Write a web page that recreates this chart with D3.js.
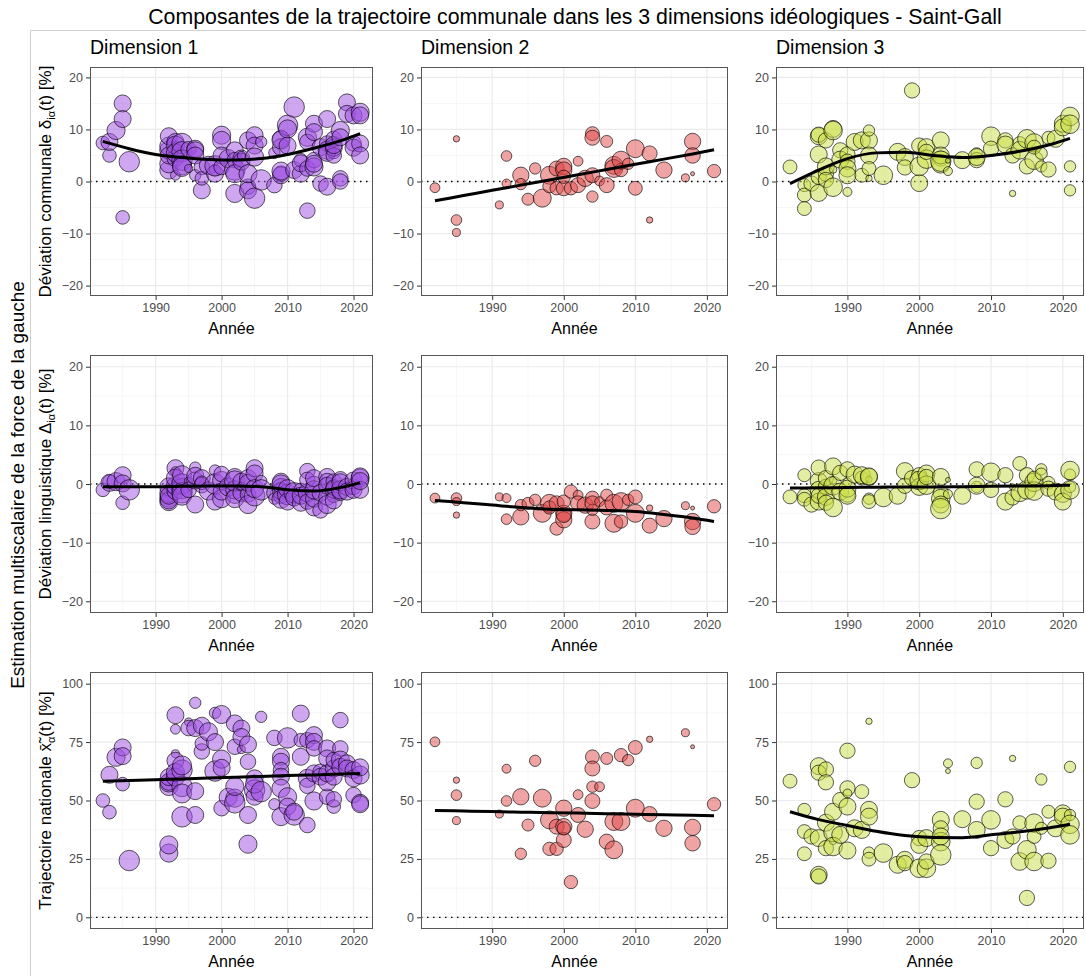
<!DOCTYPE html>
<html>
<head>
<meta charset="utf-8">
<script src="https://cdn.jsdelivr.net/npm/d3@7"></script>
<style>
  body { margin: 0; background: #fff; }
  text { font-family: "Liberation Sans", Arial, sans-serif; }
</style>
</head>
<body>
<svg id="chart" width="1086" height="976"></svg>
<script>
// SVG Size
var width = 1086,
    height = 976;

var dimensions = ["Dimension 1", "Dimension 2", "Dimension 3"];
var fills = ["#9d50e2", "#e04848", "#cadd48"];
var yearTicks = [1990, 2000, 2010, 2020];
var yearMinor = [1985, 1995, 2005, 2015];
var devTicks = [-20, -10, 0, 10, 20];
var devMinor = [-15, -5, 5, 15];
var natTicks = [0, 25, 50, 75, 100];
var natMinor = [12.5, 37.5, 62.5, 87.5];

// Dimension 1 : one entry per vote (year, weight, communal dev., linguistic dev., national)
var years1 = [1982, 1983, 1983, 1984, 1985, 1985, 1985, 1986,
  1992, 1992, 1992, 1992, 1992, 1992, 1993, 1993, 1993, 1993, 1993, 1993,
  1994, 1994, 1994, 1994, 1994, 1995, 1995, 1996, 1996, 1996, 1996,
  1997, 1997, 1997, 1998, 1999, 1999, 1999, 2000, 2000, 2000, 2000, 2001,
  2002, 2002, 2002, 2002, 2002, 2003, 2003, 2003, 2004, 2004, 2004, 2004,
  2005, 2005, 2005, 2005, 2006, 2006, 2008, 2008,
  2009, 2009, 2009, 2009, 2009, 2009, 2010, 2010, 2010, 2011, 2011,
  2012, 2012, 2012, 2013, 2013, 2013, 2013, 2014, 2014, 2014, 2014, 2014,
  2015, 2015, 2016, 2016, 2016, 2016, 2016, 2017, 2017, 2017, 2017, 2017,
  2018, 2018, 2018, 2018, 2019, 2019, 2020, 2020, 2020, 2021, 2021, 2021, 2021];
var weights1 = [23, 23, 36, 41, 36, 36, 23, 52,
  41, 41, 41, 41, 36, 36, 36, 12, 8, 36, 41, 41,
  52, 52, 52, 45, 45, 8, 30, 16, 36, 36, 36,
  36, 30, 23, 41, 16, 36, 52, 41, 41, 36, 30, 41,
  36, 30, 41, 52, 41, 36, 36, 8, 36, 30, 36, 41,
  36, 52, 36, 41, 16, 52, 30, 16,
  36, 36, 30, 36, 41, 41, 52, 41, 36, 52, 36,
  36, 23, 36, 30, 41, 30, 30, 36, 36, 30, 41, 36,
  30, 36, 36, 36, 30, 41, 36, 23, 30, 36, 30, 36,
  30, 30, 41, 36, 36, 36, 30, 36, 36, 41, 36, 36, 36];
var devCom1 = [7.4, 5.0, 7.6, 9.8, 15.0, 12.0, -6.9, 3.8,
  2.2, 3.4, 6.0, 6.8, 8.7, 5.0, 7.6, 1.2, 6.9, 4.5, 7.0, 5.5,
  7.3, 5.7, 4.1, 3.1, 2.8, 2.5, 6.2, 1.2, 6.3, 6.0, 5.0,
  -1.7, 2.8, 0.6, 3.1, 2.2, 1.5, 3.0, 8.9, 7.9, 5.0, 2.8, 4.4,
  6.0, 4.1, -2.3, 2.2, 1.5, 4.4, 3.8, 5.0, 7.9, -1.0, -1.7, 1.5,
  8.9, -3.2, 6.9, 4.7, 7.6, 0.3, -0.7, 5.5,
  8.2, 6.6, 1.5, 1.2, 8.0, 2.0, 10.8, 10.1, 6.9, 14.3, 2.2,
  1.5, 4.1, 3.5, -5.6, 8.5, 7.6, 2.5, 11.1, 9.5, 4.1, 2.8, 3.4,
  -0.4, 6.6, 12.0, -1.0, 7.3, 6.0, 5.5, 5.7, 8.2, 6.5, 5.0, 7.0,
  0.6, 0.0, 9.8, 8.5, 15.2, 13.0, 7.3, 12.7, 6.5, 13.3, 12.7, 7.3, 5.0];
var devLing1 = [-1.0, 0.4, 0.2, 0.4, 1.5, 0.1, -3.2, -1.0,
  -2.4, -3.0, -1.6, -0.5, -2.8, -2.0, 2.7, 2.1, 0.3, -1.2, -0.3, 1.0,
  -0.8, 0.0, -1.5, 1.5, -2.0, 0.5, -1.0, 2.8, -3.5, 0.6, 1.4,
  1.0, -0.2, 0.2, -1.2, 2.3, -3.0, 0.0, -2.5, 0.6, -1.3, 1.7, -0.5,
  1.2, -2.0, -1.0, 0.5, -2.5, -1.5, 0.4, -0.4, 1.0, -1.8, 0.2, -3.5,
  2.7, -2.0, 1.8, -0.8, 0.5, -1.0, -1.5, -2.5,
  0.4, -0.5, -2.0, -1.2, 0.0, -2.6, -1.8, -0.8, -3.0, -1.5, -2.3,
  -3.2, -1.0, -2.0, 2.2, -1.5, -3.0, 0.7, -4.0, -2.5, 0.0, -1.0, 1.0,
  -4.5, -1.5, -2.2, 1.2, 0.5, -3.5, -0.3, -2.0, 0.4, -1.0, -0.6, -2.8,
  -1.5, 0.8, -1.0, 0.3, -0.5, -1.3, -0.5, 0.6, -1.0, 1.0, 1.3, -1.0, 0.5];
var national1 = [50, 45, 61, 68.5, 72.7, 69, 57, 24.3,
  27.5, 31, 56, 57.5, 58, 60, 86.5, 80.5, 70, 67, 60, 62,
  43, 56, 63, 65, 53, 83.6, 81, 91.8, 43.8, 54, 81,
  82, 71, 74.4, 79.4, 87.5, 75, 62.6, 86.8, 67.7, 64, 46.7, 51.4,
  83, 73, 51, 49, 56, 80.8, 77.2, 71.8, 74, 66.6, 43.8, 31.3,
  59.5, 54.5, 51.6, 57, 85.8, 53.8, 76.8, 48.4,
  68.7, 66.6, 63, 60.2, 55.2, 43.1, 76.8, 51.6, 47.4, 43.8, 45.2,
  87.2, 75.8, 68.7, 39.5, 59.5, 56.3, 75.8, 78, 75.1, 72.3, 49.8, 61.6,
  62.3, 60.2, 72.3, 68, 51.6, 58, 61.6, 47.4, 50.5, 63.7, 67.3, 60.2,
  84.4, 72.3, 67.3, 64.4, 65.9, 63.7, 52.3, 63, 59.5, 60.9, 64.2, 49, 48.4];

// Dimension 2
var years2 = [1982, 1985, 1985, 1985, 1991, 1992, 1992, 1994, 1994, 1995, 1996, 1997,
  1998, 1998, 1999, 1999, 2000, 2000, 2000, 2000, 2001, 2002, 2002, 2003,
  2004, 2004, 2004, 2004, 2005, 2006, 2006, 2007, 2007, 2008, 2008, 2009,
  2010, 2010, 2012, 2012, 2014, 2017, 2018, 2018, 2018, 2021];
var weights2 = [12, 5, 14, 8, 8, 10, 14, 33, 16, 18, 16, 40,
  40, 22, 28, 22, 33, 33, 28, 22, 22, 12, 28, 33,
  24, 28, 16, 28, 12, 18, 28, 40, 40, 22, 40, 16,
  24, 40, 5, 28, 33, 8, 2, 33, 30, 22];
var devCom2 = [-1.2, 8.2, -7.4, -9.8, -4.5, -0.4, 4.9, 1.2, -0.5, -3.4, 2.5, -3.2,
  1.2, -0.9, 2.5, -1.3, 2.9, 2.2, -1.3, 0.9, -1.3, 3.9, -0.7, 0.6,
  9.2, 8.4, -2.9, 1.2, 0.1, 7.7, -0.7, 3.1, 2.5, 2.2, 4.1, 3.4,
  -1.3, 6.3, -7.4, 5.4, 2.2, 0.7, 1.5, 7.7, 5.0, 2.0];
var devLing2 = [-2.4, -5.3, -2.4, -3.0, -2.2, -2.4, -6.0, -5.6, -3.6, -3.3, -2.7, -5.0,
  -3.3, -4.0, -3.3, -7.6, -5.0, -6.1, -5.3, -3.0, -1.3, -1.9, -3.3, -3.6,
  -2.4, -6.4, -4.4, -3.3, -3.0, -1.9, -4.0, -3.3, -6.7, -6.4, -3.0, -2.7,
  -2.2, -5.0, -4.1, -7.1, -5.9, -3.7, -4.1, -6.4, -7.3, -3.8];
var national2 = [75.1, 58.7, 52.3, 41.4, 44.2, 63.6, 49.8, 51.6, 27.2, 39.5, 67, 51,
  41.7, 29.3, 38.8, 29.3, 46.7, 38.8, 33.1, 38.1, 15.1, 52.5, 43.8, 37.7,
  68.7, 63.7, 55.9, 49.8, 55.9, 68, 32.4, 41, 28.9, 69.4, 41, 67.3,
  72.7, 46.7, 76.2, 44.2, 38.1, 79, 73, 38.5, 31.7, 48.4];

// Dimension 3
var years3 = [1982, 1984, 1984, 1984, 1985, 1986, 1986, 1986, 1986, 1986,
  1987, 1987, 1987, 1987, 1988, 1988, 1988, 1988, 1989, 1989,
  1990, 1990, 1990, 1990, 1990, 1991, 1992, 1992, 1993, 1993, 1993, 1993, 1993,
  1995, 1997, 1998, 1998, 1999, 2000, 2000, 2000, 2001, 2001, 2001,
  2003, 2003, 2003, 2003, 2003, 2004, 2004, 2006, 2008, 2008, 2008,
  2010, 2010, 2012, 2012, 2013, 2013, 2014, 2014, 2015, 2015,
  2016, 2016, 2016, 2017, 2017, 2018, 2018, 2019, 2020, 2020,
  2021, 2021, 2021, 2021];
var weights3 = [24, 21, 24, 24, 29, 36, 29, 36, 36, 29,
  29, 29, 36, 29, 7, 36, 43, 43, 29, 36,
  29, 29, 10, 36, 36, 36, 24, 36, 5, 36, 36, 16, 24,
  43, 36, 36, 29, 29, 29, 36, 43, 36, 43, 29,
  36, 29, 43, 36, 52, 10, 3, 36, 16, 29, 36,
  43, 29, 29, 36, 5, 29, 24, 39, 43, 29,
  43, 43, 24, 16, 18, 21, 29, 36, 36, 36,
  16, 16, 43, 43];
var devCom3 = [2.8, -0.7, -2.6, -5.2, -0.4, 8.7, 9.0, 5.2, -2.2, 0.9,
  7.9, 1.5, 2.9, 0.3, 2.3, 10.1, 9.8, -1.1, 6.0, 4.2,
  5.2, 3.8, -2.0, 2.5, 1.2, 7.6, 1.2, 7.9, 0.6, 7.9, 5.0, 9.8, 2.5,
  1.2, 5.7, 4.7, 2.7, 17.5, 6.9, -0.3, 2.9, 6.6, 4.3, 5.7,
  7.9, 4.4, 3.4, 5.0, 3.9, 2.0, 4.0, 4.1, 5.4, 4.1, 4.7,
  8.7, 6.3, 7.9, 7.1, -2.3, 5.0, 7.3, 6.0, 8.2, 2.9,
  7.4, 4.1, 6.6, 2.9, 5.4, 8.4, 2.3, 8.2, 11.1, 10.4,
  2.9, -1.7, 12.5, 11.0];
var devLing3 = [-2.2, 1.5, -2.0, -2.6, -3.5, 0.5, 2.8, -1.0, -3.0, -2.0,
  -0.5, 1.0, -2.2, -3.2, 0.6, 3.0, -0.3, -4.0, 1.9, -1.3,
  -1.8, 2.5, 0.3, -0.8, -2.0, 1.6, 1.0, 1.5, 0.8, 1.2, 1.3, -2.5, -3.0,
  -2.3, -2.0, 2.2, -0.3, 1.0, 1.5, -0.5, 0.6, 1.8, -0.2, 1.2,
  1.2, -1.5, -2.5, -3.5, -4.2, -1.7, 0.7, -2.0, -0.5, 2.5, -0.3,
  2.0, -1.0, 1.5, -3.0, -0.5, -2.3, 3.5, -1.5, -1.0, 1.5,
  0.3, -1.2, 1.0, 2.5, 1.7, 0.2, -0.8, -1.3, -1.7, -3.0,
  1.6, -0.5, 2.3, -1.0];
var national3 = [58.3, 46, 36.7, 27.2, 34.6, 64.7, 61.9, 33.9, 18.2, 17.5,
  63.3, 57.8, 40.5, 29.6, 32.7, 45.2, 36.3, 30.3, 50.2, 35.3,
  71.3, 55.2, 53, 47.4, 28.6, 38.1, 53.8, 37.4, 83.9, 46, 43.1, 27.7, 24.9,
  27.5, 22.5, 24.6, 23.2, 58.7, 33.9, 31, 21, 33.9, 21, 23.9,
  41.7, 38.1, 32.4, 34.6, 26.7, 65.9, 62.6, 42, 66.1, 49.5, 37.4,
  41.7, 29.6, 50.5, 33.1, 68, 34.6, 40.5, 23.9, 28.9, 8.3,
  40.3, 23.9, 34.6, 59, 38.1, 45.2, 24.2, 38.1, 44.5, 43.1,
  64.4, 43.8, 39.8, 35.3];

// smoothed trends
var smoothYears = [1982, 1986, 1990, 1994, 1998, 2002, 2006, 2010, 2014, 2018, 2021];
var smoothCom1 = [7.7, 6.3, 5.2, 4.6, 4.25, 4.15, 4.4, 5.2, 6.4, 7.8, 9.2];
var smoothCom2 = [-3.7, -2.7, -1.7, -0.7, 0.3, 1.3, 2.3, 3.3, 4.3, 5.3, 6.1];
var smoothCom3 = [-0.4, 2.2, 4.4, 5.5, 5.6, 5.0, 4.6, 5.0, 5.8, 7.0, 8.3];
var smoothLing1 = [-0.45, -0.45, -0.45, -0.4, -0.35, -0.35, -0.45, -1.0, -1.2, -0.6, 0.2];
var smoothLing2 = [-2.8, -3.2, -3.6, -4.0, -4.3, -4.4, -4.5, -4.7, -5.2, -5.8, -6.4];
var smoothLing3 = [-0.7, -0.65, -0.6, -0.55, -0.5, -0.5, -0.45, -0.4, -0.35, -0.3, -0.2];
var smoothNat1 = [58.2, 58.55, 58.9, 59.25, 59.6, 59.95, 60.3, 60.65, 60.95, 61.3, 61.6];
var smoothNat2 = [45.7, 45.5, 45.25, 45.0, 44.8, 44.6, 44.35, 44.1, 43.9, 43.7, 43.5];
var smoothNat3 = [45.2, 41.8, 39.3, 36.8, 35.0, 34.2, 34.1, 35.3, 36.6, 38.2, 39.8];

var columns = [
  { years: years1, weights: weights1, values: [devCom1, devLing1, national1], smooth: [smoothCom1, smoothLing1, smoothNat1] },
  { years: years2, weights: weights2, values: [devCom2, devLing2, national2], smooth: [smoothCom2, smoothLing2, smoothNat2] },
  { years: years3, weights: weights3, values: [devCom3, devLing3, national3], smooth: [smoothCom3, smoothLing3, smoothNat3] }
];

// panel placement
var colX = [[90, 373], [421, 728], [776, 1084]];
var rowY = [[67, 296], [355, 613], [672, 929]];

var svg = d3.select("#chart")
    .attr("width", width)
    .attr("height", height);

svg.append("rect").attr("width", width).attr("height", height).attr("fill", "#fff");

// outer frame
svg.append("path")
    .attr("d", "M30.5," + height + "V30.5H" + width)
    .attr("fill", "none")
    .attr("stroke", "#d0d0d0")
    .attr("stroke-width", 1);

svg.append("text")
    .attr("x", 575).attr("y", 24)
    .attr("text-anchor", "middle")
    .attr("font-size", 21.3)
    .attr("fill", "#000")
    .text("Composantes de la trajectoire communale dans les 3 dimensions idéologiques - Saint-Gall");

svg.append("text")
    .attr("transform", "translate(24,485) rotate(-90)")
    .attr("text-anchor", "middle")
    .attr("font-size", 19)
    .text("Estimation multiscalaire de la force de la gauche");

dimensions.forEach(function(d, i) {
  svg.append("text")
      .attr("x", colX[i][0]).attr("y", 54)
      .attr("font-size", 19.5)
      .text(d);
});

// y axis titles with subscripts
var yTitles = [
  { pre: "Déviation communale δ", sub: "iα", post: "(t) [%]" },
  { pre: "Déviation linguistique Δ", sub: "iα", post: "(t) [%]" },
  { pre: "Trajectoire nationale x\u0304\u0303", sub: "α", post: "(t) [%]" }
];

yTitles.forEach(function(t, r) {
  var cy = (rowY[r][0] + rowY[r][1]) / 2;
  var txt = svg.append("text")
      .attr("transform", "translate(51," + cy + ") rotate(-90)")
      .attr("text-anchor", "middle")
      .attr("font-size", 17);
  txt.append("tspan").text(t.pre);
  txt.append("tspan").attr("font-size", 11).attr("dy", 4).text(t.sub);
  txt.append("tspan").attr("dy", -4).text(t.post);
});

var r = d3.scaleSqrt().domain([0, 60]).range([0, 11]);

columns.forEach(function(col, c) {
  var x = d3.scaleLinear().domain([1980.05, 2022.95]).range(colX[c]);

  rowY.forEach(function(ry, row) {
    var isNat = row === 2;
    var y = d3.scaleLinear()
        .domain(isNat ? [-5, 105] : [-22, 22])
        .range([ry[1], ry[0]]);
    var ticks = isNat ? natTicks : devTicks;
    var minor = isNat ? natMinor : devMinor;

    var g = svg.append("g");

    g.append("rect")
        .attr("x", colX[c][0]).attr("y", ry[0])
        .attr("width", colX[c][1] - colX[c][0])
        .attr("height", ry[1] - ry[0])
        .attr("fill", "#fff");

    // minor grid
    g.selectAll(".vmin").data(yearMinor).enter().append("line")
        .attr("x1", function(d) { return x(d); }).attr("x2", function(d) { return x(d); })
        .attr("y1", ry[0]).attr("y2", ry[1])
        .attr("stroke", "#f2f2f2").attr("stroke-width", 0.7);
    g.selectAll(".hmin").data(minor).enter().append("line")
        .attr("x1", colX[c][0]).attr("x2", colX[c][1])
        .attr("y1", function(d) { return y(d); }).attr("y2", function(d) { return y(d); })
        .attr("stroke", "#f2f2f2").attr("stroke-width", 0.7);

    // major grid
    g.selectAll(".vmaj").data(yearTicks).enter().append("line")
        .attr("x1", function(d) { return x(d); }).attr("x2", function(d) { return x(d); })
        .attr("y1", ry[0]).attr("y2", ry[1])
        .attr("stroke", "#ebebeb").attr("stroke-width", 1.2);
    g.selectAll(".hmaj").data(ticks).enter().append("line")
        .attr("x1", colX[c][0]).attr("x2", colX[c][1])
        .attr("y1", function(d) { return y(d); }).attr("y2", function(d) { return y(d); })
        .attr("stroke", "#ebebeb").attr("stroke-width", 1.2);

    // zero reference
    g.append("line")
        .attr("x1", colX[c][0]).attr("x2", colX[c][1])
        .attr("y1", y(0)).attr("y2", y(0))
        .attr("stroke", "#000")
        .attr("stroke-width", 1.3)
        .attr("stroke-dasharray", "1.5,4.5");

    var pts = col.years.map(function(yr, k) {
      return { year: yr, w: col.weights[k], v: col.values[row][k] };
    });

    g.selectAll("circle").data(pts).enter().append("circle")
        .attr("cx", function(d) { return x(d.year); })
        .attr("cy", function(d) { return y(d.v); })
        .attr("r", function(d) { return r(d.w); })
        .attr("fill", fills[c])
        .attr("fill-opacity", 0.5)
        .attr("stroke", "#000")
        .attr("stroke-opacity", 0.7)
        .attr("stroke-width", 0.9);

    var line = d3.line()
        .x(function(d) { return x(d[0]); })
        .y(function(d) { return y(d[1]); })
        .curve(d3.curveMonotoneX);

    g.append("path")
        .datum(smoothYears.map(function(yr, k) { return [yr, col.smooth[row][k]]; }))
        .attr("d", line)
        .attr("fill", "none")
        .attr("stroke", "#000")
        .attr("stroke-width", 3);

    // panel border
    g.append("rect")
        .attr("x", colX[c][0] + 0.5).attr("y", ry[0] + 0.5)
        .attr("width", colX[c][1] - colX[c][0] - 1)
        .attr("height", ry[1] - ry[0] - 1)
        .attr("fill", "none")
        .attr("stroke", "#555")
        .attr("stroke-width", 1);

    // axes
    var xAxis = g.append("g")
        .attr("transform", "translate(0," + ry[1] + ")")
        .call(d3.axisBottom(x).tickValues(yearTicks).tickSize(4).tickPadding(3).tickFormat(d3.format("d")));
    var yAxis = g.append("g")
        .attr("transform", "translate(" + colX[c][0] + ",0)")
        .call(d3.axisLeft(y).tickValues(ticks).tickSize(4).tickPadding(3));

    [xAxis, yAxis].forEach(function(a) {
      a.select(".domain").remove();
      a.selectAll("line").attr("stroke", "#333");
      a.selectAll("text")
          .attr("fill", "#4d4d4d")
          .attr("font-size", 12.5)
          .attr("font-family", "Liberation Sans, Arial, sans-serif");
    });

    g.append("text")
        .attr("x", (colX[c][0] + colX[c][1]) / 2)
        .attr("y", ry[1] + 38)
        .attr("text-anchor", "middle")
        .attr("font-size", 16)
        .text("Année");
  });
});
</script>
</body>
</html>
